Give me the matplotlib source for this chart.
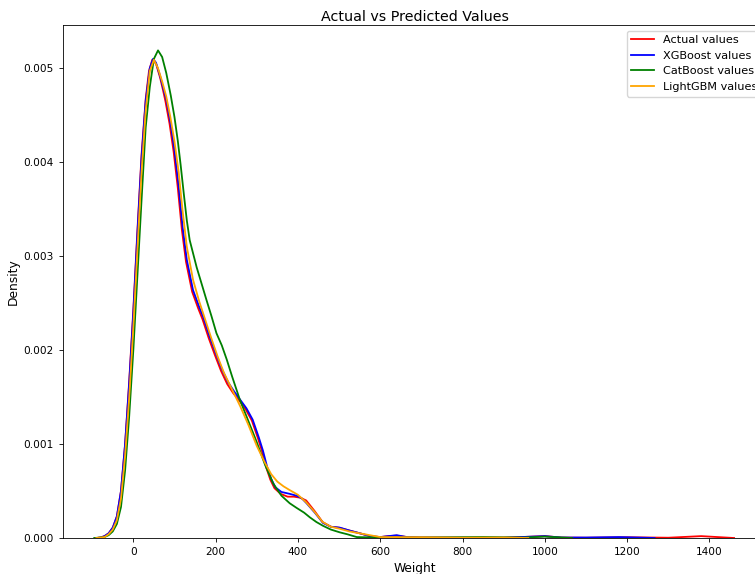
import numpy as np
import matplotlib
matplotlib.use("Agg")
import matplotlib.pyplot as plt

# density curves (Weight vs Density)
actual_x = [-90, -80, -70, -60, -50, -40, -30, -20, -10, 0, 10, 20, 30, 38, 46, 55, 65, 72, 78,
            88, 98, 108, 118, 128, 143, 158, 168, 183, 198, 213, 228, 243, 258, 273, 288,
            303, 313, 323, 333, 343, 358, 375, 390, 405, 420, 440, 460, 480, 500, 525, 550,
            575, 600, 620, 640, 665, 700, 800, 900, 1000, 1040, 1100, 1200, 1300, 1380, 1460]
actual_y = [0, 0.000005, 0.00002, 0.00005, 0.00011, 0.00023, 0.0005, 0.001, 0.00167, 0.00243,
            0.00328, 0.00408, 0.00467, 0.00497, 0.00509, 0.00505, 0.0049, 0.00477, 0.00465,
            0.00441, 0.00411, 0.00373, 0.00328, 0.00294, 0.00262, 0.00244, 0.00233, 0.00213,
            0.00195, 0.00178, 0.00164, 0.00154, 0.00146, 0.00137, 0.00125,
            0.00106, 0.00092, 0.00075, 0.00062, 0.00053, 0.00047, 0.00044, 0.00044, 0.00043,
            0.0004, 0.00029, 0.00017, 0.00012, 0.00011, 0.00008, 0.00005,
            0.00002, 0.00001, 0.00002, 0.000025, 0.00001, 0.000005, 0.000003, 0.000003,
            0.00002, 0.000005, 0.000003, 0.000008, 0.000003, 0.00002, 0]

xgb_x = [-90, -80, -70, -60, -50, -40, -30, -20, -10, 0, 10, 20, 30, 40, 48, 55, 65, 72, 80,
         90, 100, 110, 120, 130, 145, 160, 170, 185, 200, 215, 230, 245, 260, 275, 290,
         305, 315, 325, 335, 345, 360, 380, 397, 410, 421, 441, 461, 480, 502, 525, 551,
         575, 600, 620, 640, 665, 700, 800, 900, 1000, 1040, 1100, 1180, 1267]
xgb_y = [0, 0.000005, 0.00002, 0.00005, 0.00011, 0.00023, 0.0005, 0.001, 0.00165, 0.0024,
         0.00325, 0.00405, 0.00465, 0.005, 0.0051, 0.00506, 0.00492, 0.0048, 0.00467,
         0.00443, 0.00413, 0.00375, 0.0033, 0.00296, 0.00264, 0.00246, 0.00235, 0.00215,
         0.00197, 0.0018, 0.00166, 0.00156, 0.00147, 0.00138, 0.00126,
         0.00107, 0.00093, 0.00076, 0.00063, 0.00054, 0.00049, 0.00047, 0.00045, 0.00042,
         0.00037, 0.00027, 0.00016, 0.00012, 0.00011, 0.00008, 0.00005,
         0.00002, 0.00001, 0.00002, 0.00003, 0.00001, 0.000005, 0.000003, 0.000003,
         0.00002, 0.000005, 0.000005, 0.00001, 0]

cat_x = [-95, -80, -70, -60, -50, -40, -30, -20, -10, 0, 10, 20, 30, 40, 50, 60, 70, 80,
         91, 100, 108, 115, 123, 130, 137, 154, 165, 178, 190, 202, 215, 227, 240, 259,
         280, 300, 320, 340, 360, 380, 397, 415, 429, 445, 461, 480, 502, 520, 543,
         600, 700, 850, 950, 1000, 1066]
cat_y = [0, 0.000005, 0.00001, 0.00003, 0.00007, 0.00015, 0.00033, 0.00072, 0.0013, 0.002,
         0.0028, 0.0036, 0.00437, 0.0048, 0.0051, 0.00519, 0.00512, 0.00495,
         0.00471, 0.00448, 0.00423, 0.00397, 0.00365, 0.00338, 0.00317, 0.00288, 0.00272,
         0.00253, 0.00236, 0.00218, 0.00205, 0.0019, 0.00172, 0.00147,
         0.00124, 0.00102, 0.00078, 0.00058, 0.00045, 0.00037, 0.00032, 0.00027, 0.00022,
         0.00017, 0.00013, 0.00009, 0.00006, 0.00004, 0.00001,
         0.000005, 0.000005, 0.00001, 0.000005, 0.000015, 0]

lgbm_x = [-90, -80, -70, -60, -50, -40, -30, -20, -10, 0, 10, 20, 30, 40, 50, 60, 70, 80,
          90, 100, 110, 120, 130, 145, 160, 175, 190, 205, 220, 240, 260, 280, 300, 320,
          335, 350, 365, 380, 400, 420, 440, 460, 480, 500, 525, 550, 575, 600, 700,
          800, 900, 960]
lgbm_y = [0, 0.000005, 0.00001, 0.00004, 0.00009, 0.00019, 0.00042, 0.00088, 0.0015, 0.00225,
          0.00308, 0.0039, 0.00455, 0.00497, 0.00509, 0.005, 0.00486, 0.0047,
          0.00448, 0.00422, 0.0039, 0.00347, 0.0031, 0.00275, 0.00252, 0.00232, 0.00212,
          0.00193, 0.00176, 0.00158, 0.0014, 0.0012, 0.00098, 0.0008,
          0.00068, 0.0006, 0.00055, 0.00051, 0.00046, 0.00038, 0.00028, 0.00017, 0.00012,
          0.0001, 0.00007, 0.00005, 0.00003, 0.00001, 0.000008,
          0.000003, 0.000005, 0]

labels = ["Actual values", "XGBoost values", "CatBoost values", "LightGBM values"]
colors = ["red", "blue", "green", "orange"]
xticks = [0, 200, 400, 600, 800, 1000, 1200, 1400]
yticks = [0, 0.001, 0.002, 0.003, 0.004, 0.005]

fig = plt.figure(figsize=(7.55, 5.74), dpi=100)
# axes runs past the right edge, like the cropped original
ax = fig.add_axes([0.0834, 0.0627, 0.9325, 0.8937])

series = [(actual_x, actual_y), (xgb_x, xgb_y), (cat_x, cat_y), (lgbm_x, lgbm_y)]
for (xs, ys), lab, col in zip(series, labels, colors):
    ax.plot(xs, ys, color=col, label=lab, linewidth=1.3)

ax.set_xlim(-171, 1540)
ax.set_ylim(0, 0.00546)
ax.set_xticks(xticks)
ax.set_yticks(yticks)
ax.yaxis.set_major_formatter(matplotlib.ticker.FormatStrFormatter("%.3f"))
ax.tick_params(labelsize=7.6, length=3, width=0.6)
for s in ax.spines.values():
    s.set_linewidth(0.6)

ax.set_title("Actual vs Predicted Values", fontsize=10.3, pad=3)
ax.set_xlabel("Weight", fontsize=8.8, labelpad=3.5)
ax.set_ylabel("Density", fontsize=8.8, labelpad=2.5)
ax.legend(loc="upper right", fontsize=8.1)

fig.savefig("out.png", dpi=100)
